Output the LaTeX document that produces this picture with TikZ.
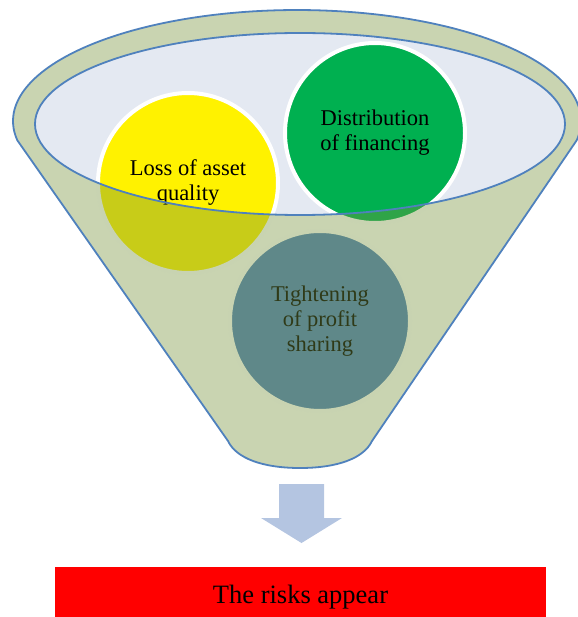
\documentclass[tikz,border=0pt]{standalone}
\usepackage{fontspec}
\setmainfont{Liberation Serif}
\definecolor{rimblue}{HTML}{4F81BD}
\definecolor{bowlfill}{HTML}{E4E9F2}
\definecolor{funnelolive}{HTML}{77933C}
\definecolor{leafgreen}{HTML}{00B050}
\definecolor{flowblue}{HTML}{B4C5E1}
\newcommand{\funneloutline}{(576.7,140.3) arc[start angle=10,end angle=-190,x radius=284,y radius=111]
    -- (228,441) .. controls (236,458) and (262,468) .. (300,468)
    .. controls (338,468) and (364,458) .. (372,441) -- cycle}
\begin{document}
\begin{tikzpicture}[x=1pt,y=-1pt,
        bubble/.style={circle,draw=white,line width=4pt,minimum size=180pt,inner sep=0pt,
            align=center,font=\fontsize{22.5}{25}\selectfont},
        rim/.style={draw=rimblue,line width=1.8pt},
        riskbox/.style={fill=red,minimum width=491pt,minimum height=50pt,inner sep=0pt,
            text height=22pt,text depth=0pt,font=\fontsize{26.5}{30}\selectfont}]
    \useasboundingbox (0,0) rectangle (577,617);
    \fill[bowlfill] (300,124) ellipse [x radius=265,y radius=91];
    \node[bubble,fill=yellow] (loss) at (188,183) {Loss of asset\\quality};
    \node[bubble,fill=leafgreen] (financing) at (375,133) {Distribution\\of financing};
    \node[bubble,fill=rimblue] (profit) at (320,321) {Tightening\\of profit\\sharing};
    \fill[funnelolive,fill opacity=0.4,even odd rule] \funneloutline
        (300,124) ellipse [x radius=265,y radius=91];
    \draw[rim] \funneloutline;
    \draw[rim] (300,124) ellipse [x radius=265,y radius=91];
    \coordinate (neck) at (301.5,484);
    \fill[flowblue] (neck) ++(-22.5,0) -- ++(45,0) -- ++(0,34) -- ++(18,0)
        -- ++(-40.5,25) -- ++(-40.5,-25) -- ++(18,0) -- cycle;
    \node[riskbox] (risk) at (300.5,592) {The risks appear};
\end{tikzpicture}
\end{document}
